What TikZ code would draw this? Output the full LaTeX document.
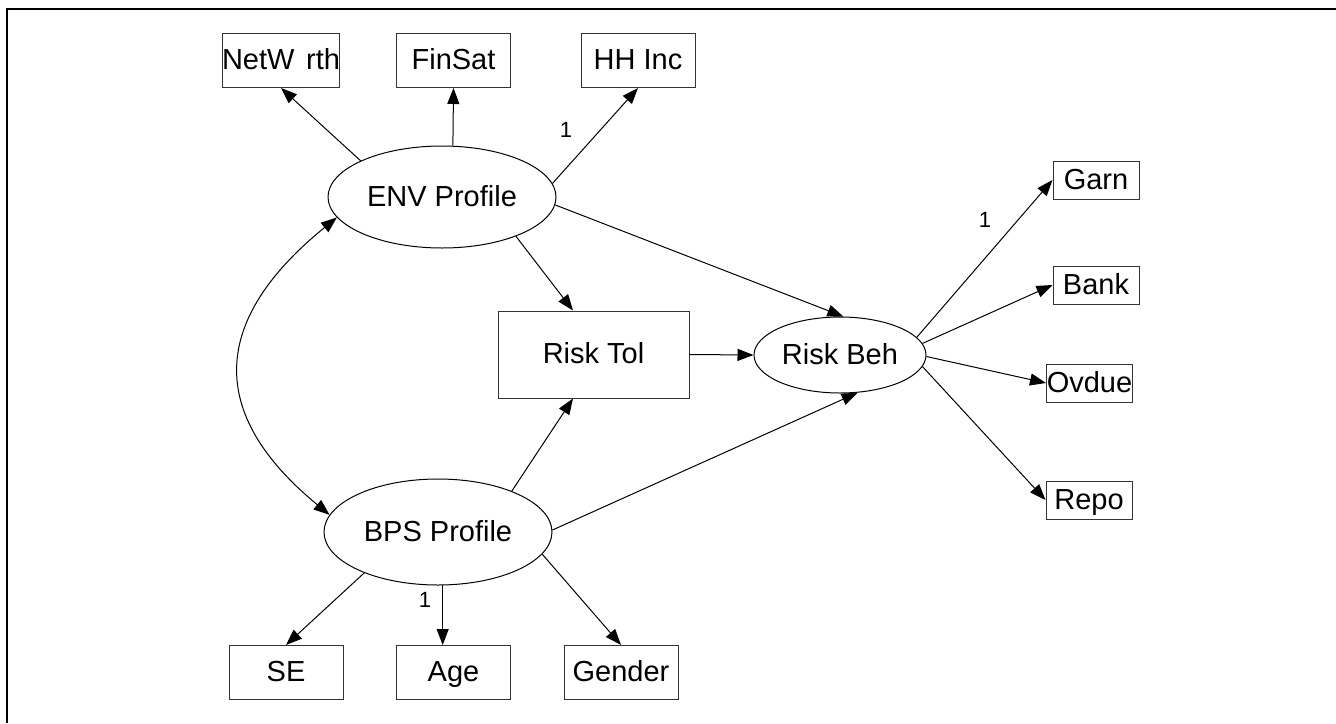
\documentclass[tikz,border=0pt]{standalone}
\usepackage{fontspec}
\setmainfont{Liberation Sans}
\usetikzlibrary{shapes.geometric,arrows.meta}
\begin{document}
\begin{tikzpicture}[x=0.5pt,y=-0.5pt,
  every node/.style={inner sep=0pt,font=\fontsize{14.5}{17}\selectfont,text height=10.5pt,text depth=1.5pt},
  obsbox/.style={draw=black!80,line width=0.5pt,rectangle},
  smallbox/.style={obsbox,minimum width=43pt,minimum height=19pt},
  bigbox/.style={obsbox,minimum width=57pt,minimum height=27pt},
  latent/.style={draw=black,line width=0.5pt,ellipse},
  path/.style={line width=0.5pt,-{Triangle[length=8pt,width=6pt]}},
  bipath/.style={line width=0.5pt,{Triangle[length=8pt,width=6pt]}-{Triangle[length=8pt,width=6pt]}},
  wlabel/.style={font=\fontsize{11}{12}\selectfont,text height=7.9pt,text depth=0pt}]
\useasboundingbox (0,0) rectangle (1336,723);
\draw[line width=1pt] (7,723) -- (7,9) -- (1336,9);
% observed indicators
\node[bigbox] (netw) at (281,60.5) {NetW\hspace{0.4em}rth};
\node[bigbox] (finsat) at (453.5,60.5) {FinSat};
\node[bigbox] (hhinc) at (638,60.5) {HH Inc};
\node[bigbox] (se) at (286,672.5) {SE};
\node[bigbox] (age) at (453.5,672.5) {Age};
\node[bigbox] (gender) at (621,672.5) {Gender};
\node[smallbox] (garn) at (1096,180) {Garn};
\node[smallbox] (bank) at (1096,285) {Bank};
\node[smallbox] (ovdue) at (1089.5,383) {Ovdue};
\node[smallbox] (repo) at (1089,500) {Repo};
\node[obsbox,minimum width=95.5pt,minimum height=43.5pt] (rtol) at (593.5,354.5) {Risk Tol};
% latent
\node[latent,minimum width=114pt,minimum height=51pt] (env) at (442,197) {ENV Profile};
\node[latent,minimum width=114pt,minimum height=53pt] (bps) at (438,532) {BPS Profile};
\node[latent,minimum width=86pt,minimum height=38pt] (rbeh) at (840,355) {Risk Beh};
% ENV paths
\draw[path] (env.156) -- (netw.south);
\draw[path] (env.78) -- (finsat.south);
\draw[path] (env.7) -- (hhinc.south);
\draw[path] (env.332) -- (rtol.115);
\draw[path] (env.356) -- (rbeh.85);
% BPS paths
\draw[path] (bps.29) -- (rtol.245);
\draw[path] (bps.1) -- (rbeh.295);
\draw[path] (bps.209) -- (se.north);
\draw[path] (bps.275) -- (bps.275 |- age.north);
\draw[path] (bps.348) -- (gender.north);
% structural
\draw[path] (rtol.east) -- (rbeh.west);
% Risk Beh indicators
\draw[path] (rbeh.13) -- (garn.west);
\draw[path] (rbeh.8) -- (bank.west);
\draw[path] (rbeh.359) -- (ovdue.west);
\draw[path] (rbeh.352) -- (repo.west);
% covariance
\draw[bipath] (env.191) .. controls (211,320) and (206,413) .. (bps.171);
% fixed loadings
\node[wlabel] (l1) at (566,130) {1};
\node[wlabel] (l2) at (985,220) {1};
\node[wlabel] (l3) at (425,600) {1};
\end{tikzpicture}
\end{document}
